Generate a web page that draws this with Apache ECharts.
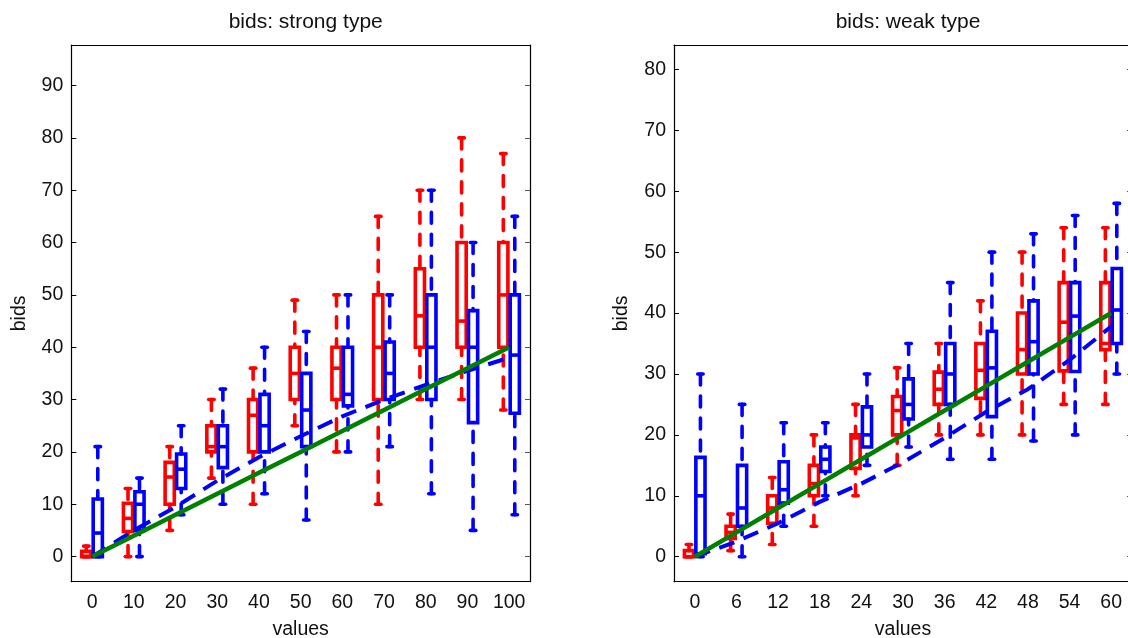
<!DOCTYPE html>
<html>
<head>
<meta charset="utf-8">
<script src="https://cdn.jsdelivr.net/npm/echarts@6/dist/echarts.min.js"></script>
<style>
html,body{margin:0;padding:0;background:#fff;}
#chart{width:1128px;height:638px;}
</style>
</head>
<body>
<div id="chart"></div>
<script>
// ---------- data ----------
const strongValues = ['0','10','20','30','40','50','60','70','80','90','100'];
const weakValues = ['0','6','12','18','24','30','36','42','48','54','60'];
const strongYTicks = [0,10,20,30,40,50,60,70,80,90];
const weakYTicks = [0,10,20,30,40,50,60,70,80];

// [min, q1, median, q3, max]
const strongRed = [
  [0,0,0,1,2],[0,4.8,7.3,10.2,13],[5,10,15.2,18,21],[15,20,21,25,30],[10,20,27,30,36],
  [25,30,35,40,49],[20,30,36,40,50],[10,30,40,50,65],[30,40,46,55,70],[30,40,45,60,80],[28,40,50,60,77]
];
const strongBlue = [
  [0,0,4.5,11,21],[0,5,10,12.4,15],[8,13,16.7,19.6,25],[10,17,21,25,32],[12,20,25,31,40],
  [7,21,28,35,43],[20,28.8,31,40,50],[21,30,35,41,50],[12,30,40,50,70],[5,25.6,40,47,60],[8,27.4,38.5,50,65]
];
const strongGreen = [0,4,8,12,16,20,24,28,32,36,40];
const strongDashed = [0,5,9.5,14.5,19,23,26.8,30,32.8,35.5,38];

const weakRed = [
  [0,0,0,1,2],[1,3,4,5,7],[2,5.5,8,10,13],[5,10,12,15,20],[10,14.5,19.5,20,25],[15,20,24,26.3,31],
  [20,25,27.5,30.3,35],[20,26,30.6,35,42],[20,30,34,40,50],[25,30.5,38.5,45,54],[25,34,35,45,54]
];
const weakBlue = [
  [0,0.5,10,16.3,30],[0,5,8,15,25],[5,8.8,11,15.6,22],[10,14,16,18,22],[15,18,20,24.6,30],[18,22.6,25,29.2,35],
  [16,25,30,35,45],[16,23,31,37,50],[19,30,35.3,42,53],[20,30.4,39.5,45,56],[30,35,40.5,47.3,58]
];
const weakGreen = [0,4,8,12,16,20,24,28,32,36,40];
const weakDashed = [0,2.5,5.5,9,12,15.5,19.5,23.8,27.5,32.3,37.8];

// ---------- styling ----------
const FONT = 'Liberation Sans, Arial, Helvetica, sans-serif';
const RED = '#ff0000', BLUE = '#0000ff', GREEN = '#008000';

function toItems(arr){ return arr.map((d,i)=>[i].concat(d)); }

function boxRenderer(color, offsetFrac){
  return function(params, api){
    const idx = api.value(0);
    const band = api.size([1,0])[0];
    const off = offsetFrac*band;
    const hw = 0.11*band;
    const cw = 0.065*band;
    const pMin = api.coord([idx, api.value(1)]);
    const pQ1 = api.coord([idx, api.value(2)]);
    const pMed = api.coord([idx, api.value(3)]);
    const pQ3 = api.coord([idx, api.value(4)]);
    const pMax = api.coord([idx, api.value(5)]);
    const cx = pMin[0] + off;
    const solid = {stroke: color, lineWidth: 3.6, fill: null, lineCap: 'round', lineJoin: 'miter'};
    const dashed = {stroke: color, lineWidth: 3.6, fill: null, lineCap: 'round', lineDash: [11,11]};
    const children = [];
    if (pMax[1] < pQ3[1]) children.push({type:'line', shape:{x1:cx,y1:pMax[1],x2:cx,y2:pQ3[1]}, style:dashed});
    if (pMin[1] > pQ1[1]) children.push({type:'line', shape:{x1:cx,y1:pMin[1],x2:cx,y2:pQ1[1]}, style:dashed});
    children.push({type:'line', shape:{x1:cx-cw,y1:pMax[1],x2:cx+cw,y2:pMax[1]}, style:solid});
    children.push({type:'line', shape:{x1:cx-cw,y1:pMin[1],x2:cx+cw,y2:pMin[1]}, style:solid});
    children.push({type:'rect', shape:{x:cx-hw,y:pQ3[1],width:2*hw,height:Math.max(pQ1[1]-pQ3[1],0.5)}, style:Object.assign({}, solid, {lineCap:'butt'})});
    children.push({type:'line', shape:{x1:cx-hw,y1:pMed[1],x2:cx+hw,y2:pMed[1]}, style:Object.assign({}, solid, {lineCap:'butt'})});
    return {type:'group', children: children};
  };
}

const tickLbl = {fontSize: 19.5, color: '#111', fontFamily: FONT};

function xAxes(data, gi){
  return [
    {type:'category', gridIndex: gi, data: data, position:'bottom', boundaryGap: true,
     axisLine:{onZero:false, lineStyle:{color:'#000', width:1.2}},
     axisTick:{inside:true, length:5, alignWithLabel:true, lineStyle:{color:'#000'}},
     axisLabel:Object.assign({margin:11, interval:0}, tickLbl),
     splitLine:{show:false},
     name:'values', nameLocation:'middle', nameGap:38,
     nameTextStyle:{fontSize:19.5, color:'#111', fontFamily: FONT}},
    {type:'category', gridIndex: gi, data: data, position:'top', boundaryGap: true,
     axisLine:{onZero:false, lineStyle:{color:'#000', width:1.2}},
     axisTick:{inside:true, length:5, alignWithLabel:true, lineStyle:{color:'#555'}},
     axisLabel:{show:false}, splitLine:{show:false}}
  ];
}
function yAxes(min, max, ticks, gi){
  return [
    {type:'value', gridIndex: gi, min:min, max:max, position:'left',
     axisLine:{show:true, onZero:false, lineStyle:{color:'#000', width:1.2}},
     axisTick:{show:true, inside:true, length:5, customValues: ticks, lineStyle:{color:'#000'}},
     axisLabel:Object.assign({margin:8, customValues: ticks}, tickLbl),
     splitLine:{show:false},
     name:'bids', nameLocation:'middle', nameGap:42,
     nameTextStyle:{fontSize:19.5, color:'#111', fontFamily: FONT}},
    {type:'value', gridIndex: gi, min:min, max:max, position:'right',
     axisLine:{show:true, onZero:false, lineStyle:{color:'#000', width:1.2}},
     axisTick:{show:true, inside:true, length:5, customValues: ticks, lineStyle:{color:'#555'}},
     axisLabel:{show:false}, splitLine:{show:false}}
  ];
}

const option = {
  animation: false,
  backgroundColor: '#fff',
  title: [
    {text:'bids: strong type', left: 300.7, top: 7, textAlign:'center',
     textStyle:{fontSize:21, fontWeight:'normal', color:'#111', fontFamily: FONT}},
    {text:'bids: weak type', left: 903, top: 7, textAlign:'center',
     textStyle:{fontSize:21, fontWeight:'normal', color:'#111', fontFamily: FONT}}
  ],
  grid: [
    {left: 71.3, top: 45, width: 458.7, height: 536.7, containLabel:false, outerBoundsMode:'none'},
    {left: 674, top: 45, width: 458, height: 536.7, containLabel:false, outerBoundsMode:'none'}
  ],
  xAxis: xAxes(strongValues, 0).concat(xAxes(weakValues, 1)),
  yAxis: yAxes(-4.8, 97.75, strongYTicks, 0).concat(yAxes(-4.1, 84, weakYTicks, 1)),
  series: [
    {type:'custom', xAxisIndex:0, yAxisIndex:0, data: toItems(strongRed), renderItem: boxRenderer(RED, -0.14), z: 2, silent:true},
    {type:'custom', xAxisIndex:0, yAxisIndex:0, data: toItems(strongBlue), renderItem: boxRenderer(BLUE, 0.135), z: 3, silent:true},
    {type:'line', xAxisIndex:0, yAxisIndex:0, data: strongDashed, symbol:'none', z: 4,
     lineStyle:{color: BLUE, width: 4, type:[16,10]}},
    {type:'line', xAxisIndex:0, yAxisIndex:0, data: strongGreen, symbol:'none', z: 5,
     lineStyle:{color: GREEN, width: 4.5}},
    {type:'custom', xAxisIndex:2, yAxisIndex:2, data: toItems(weakRed), renderItem: boxRenderer(RED, -0.14), z: 2, silent:true},
    {type:'custom', xAxisIndex:2, yAxisIndex:2, data: toItems(weakBlue), renderItem: boxRenderer(BLUE, 0.135), z: 3, silent:true},
    {type:'line', xAxisIndex:2, yAxisIndex:2, data: weakDashed, symbol:'none', z: 4,
     lineStyle:{color: BLUE, width: 4, type:[16,10]}},
    {type:'line', xAxisIndex:2, yAxisIndex:2, data: weakGreen, symbol:'none', z: 5,
     lineStyle:{color: GREEN, width: 4.5}}
  ]
};

const chart = echarts.init(document.getElementById('chart'), null, {renderer:'canvas'});
chart.setOption(option);
</script>
</body>
</html>
